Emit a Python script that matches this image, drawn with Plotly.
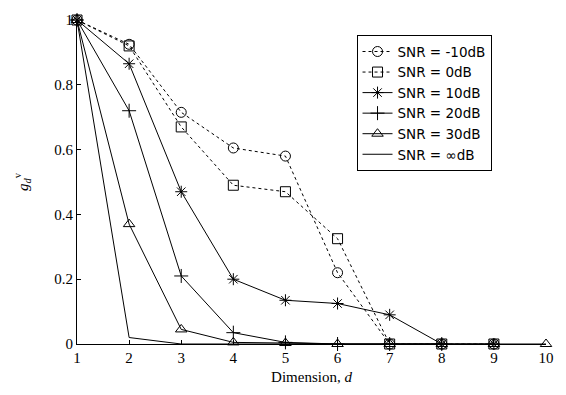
import plotly.graph_objects as go

dims = [1, 2, 3, 4, 5, 6, 7, 8, 9, 10]
snr_m10 = [1, 0.925, 0.715, 0.605, 0.58, 0.22, 0, 0, 0]
snr_0 = [1, 0.92, 0.67, 0.49, 0.47, 0.325, 0, 0, 0]
snr_10 = [1, 0.865, 0.47, 0.2, 0.135, 0.125, 0.09, 0, 0]
snr_20 = [1, 0.72, 0.21, 0.035, 0.005, 0.0, 0, 0]
snr_30 = [1, 0.37, 0.045, 0.005, 0.003, 0, 0, 0, 0, 0]
snr_inf = [1, 0.02, 0, 0, 0, 0, 0, 0]
names = ["SNR = -10dB", "SNR = 0dB", "SNR = 10dB", "SNR = 20dB", "SNR = 30dB", "SNR = \u221edB"]

series = [snr_m10, snr_0, snr_10, snr_20, snr_30, snr_inf]
symbols = ["circle-open", "square-open", "asterisk-open", "cross-thin-open", "triangle-up-open", None]
dashes = ["3px,3px", "3px,3px", "solid", "solid", "solid", "solid"]

fig = go.Figure()
for vals, name, sym, dash in zip(series, names, symbols, dashes):
    x = dims[:len(vals)]
    mode = "lines+markers" if sym else "lines"
    fig.add_trace(go.Scatter(
        x=x, y=vals, name=name, mode=mode,
        line=dict(color="black", width=1, dash=dash),
        marker=dict(symbol=sym, size=10, color="black", line=dict(width=1, color="black")) if sym else None,
        cliponaxis=False,
    ))

fig.update_layout(
    width=566, height=395,
    margin=dict(l=77, r=14, t=14, b=43),
    paper_bgcolor="white", plot_bgcolor="white",
    font=dict(family="Liberation Serif", size=15, color="black"),
    showlegend=True,
    legend=dict(
        x=0.596, y=0.953, xanchor="left", yanchor="top",
        bordercolor="black", borderwidth=1, bgcolor="white",
        font=dict(family="DejaVu Sans", size=13.5, color="black"),
        tracegroupgap=0, itemwidth=30,
    ),
    xaxis=dict(
        range=[1, 10], tickvals=dims, showgrid=False, zeroline=False,
        showline=True, linecolor="black", linewidth=1,
        ticks="inside", ticklen=4, tickcolor="black",
        title=dict(text="Dimension, <i>d</i>", standoff=6, font=dict(size=15)),
    ),
    yaxis=dict(
        range=[0, 1], tickvals=[0, 0.2, 0.4, 0.6, 0.8, 1],
        ticktext=["0", "0.2", "0.4", "0.6", "0.8", "1"],
        showgrid=False, zeroline=False,
        showline=True, linecolor="black", linewidth=1,
        ticks="inside", ticklen=4, tickcolor="black",
        title=dict(text="<i>g</i><sub><i>d</i></sub><sup>v</sup>", standoff=22, font=dict(size=15)),
    ),
)

fig.write_html("out.html")
